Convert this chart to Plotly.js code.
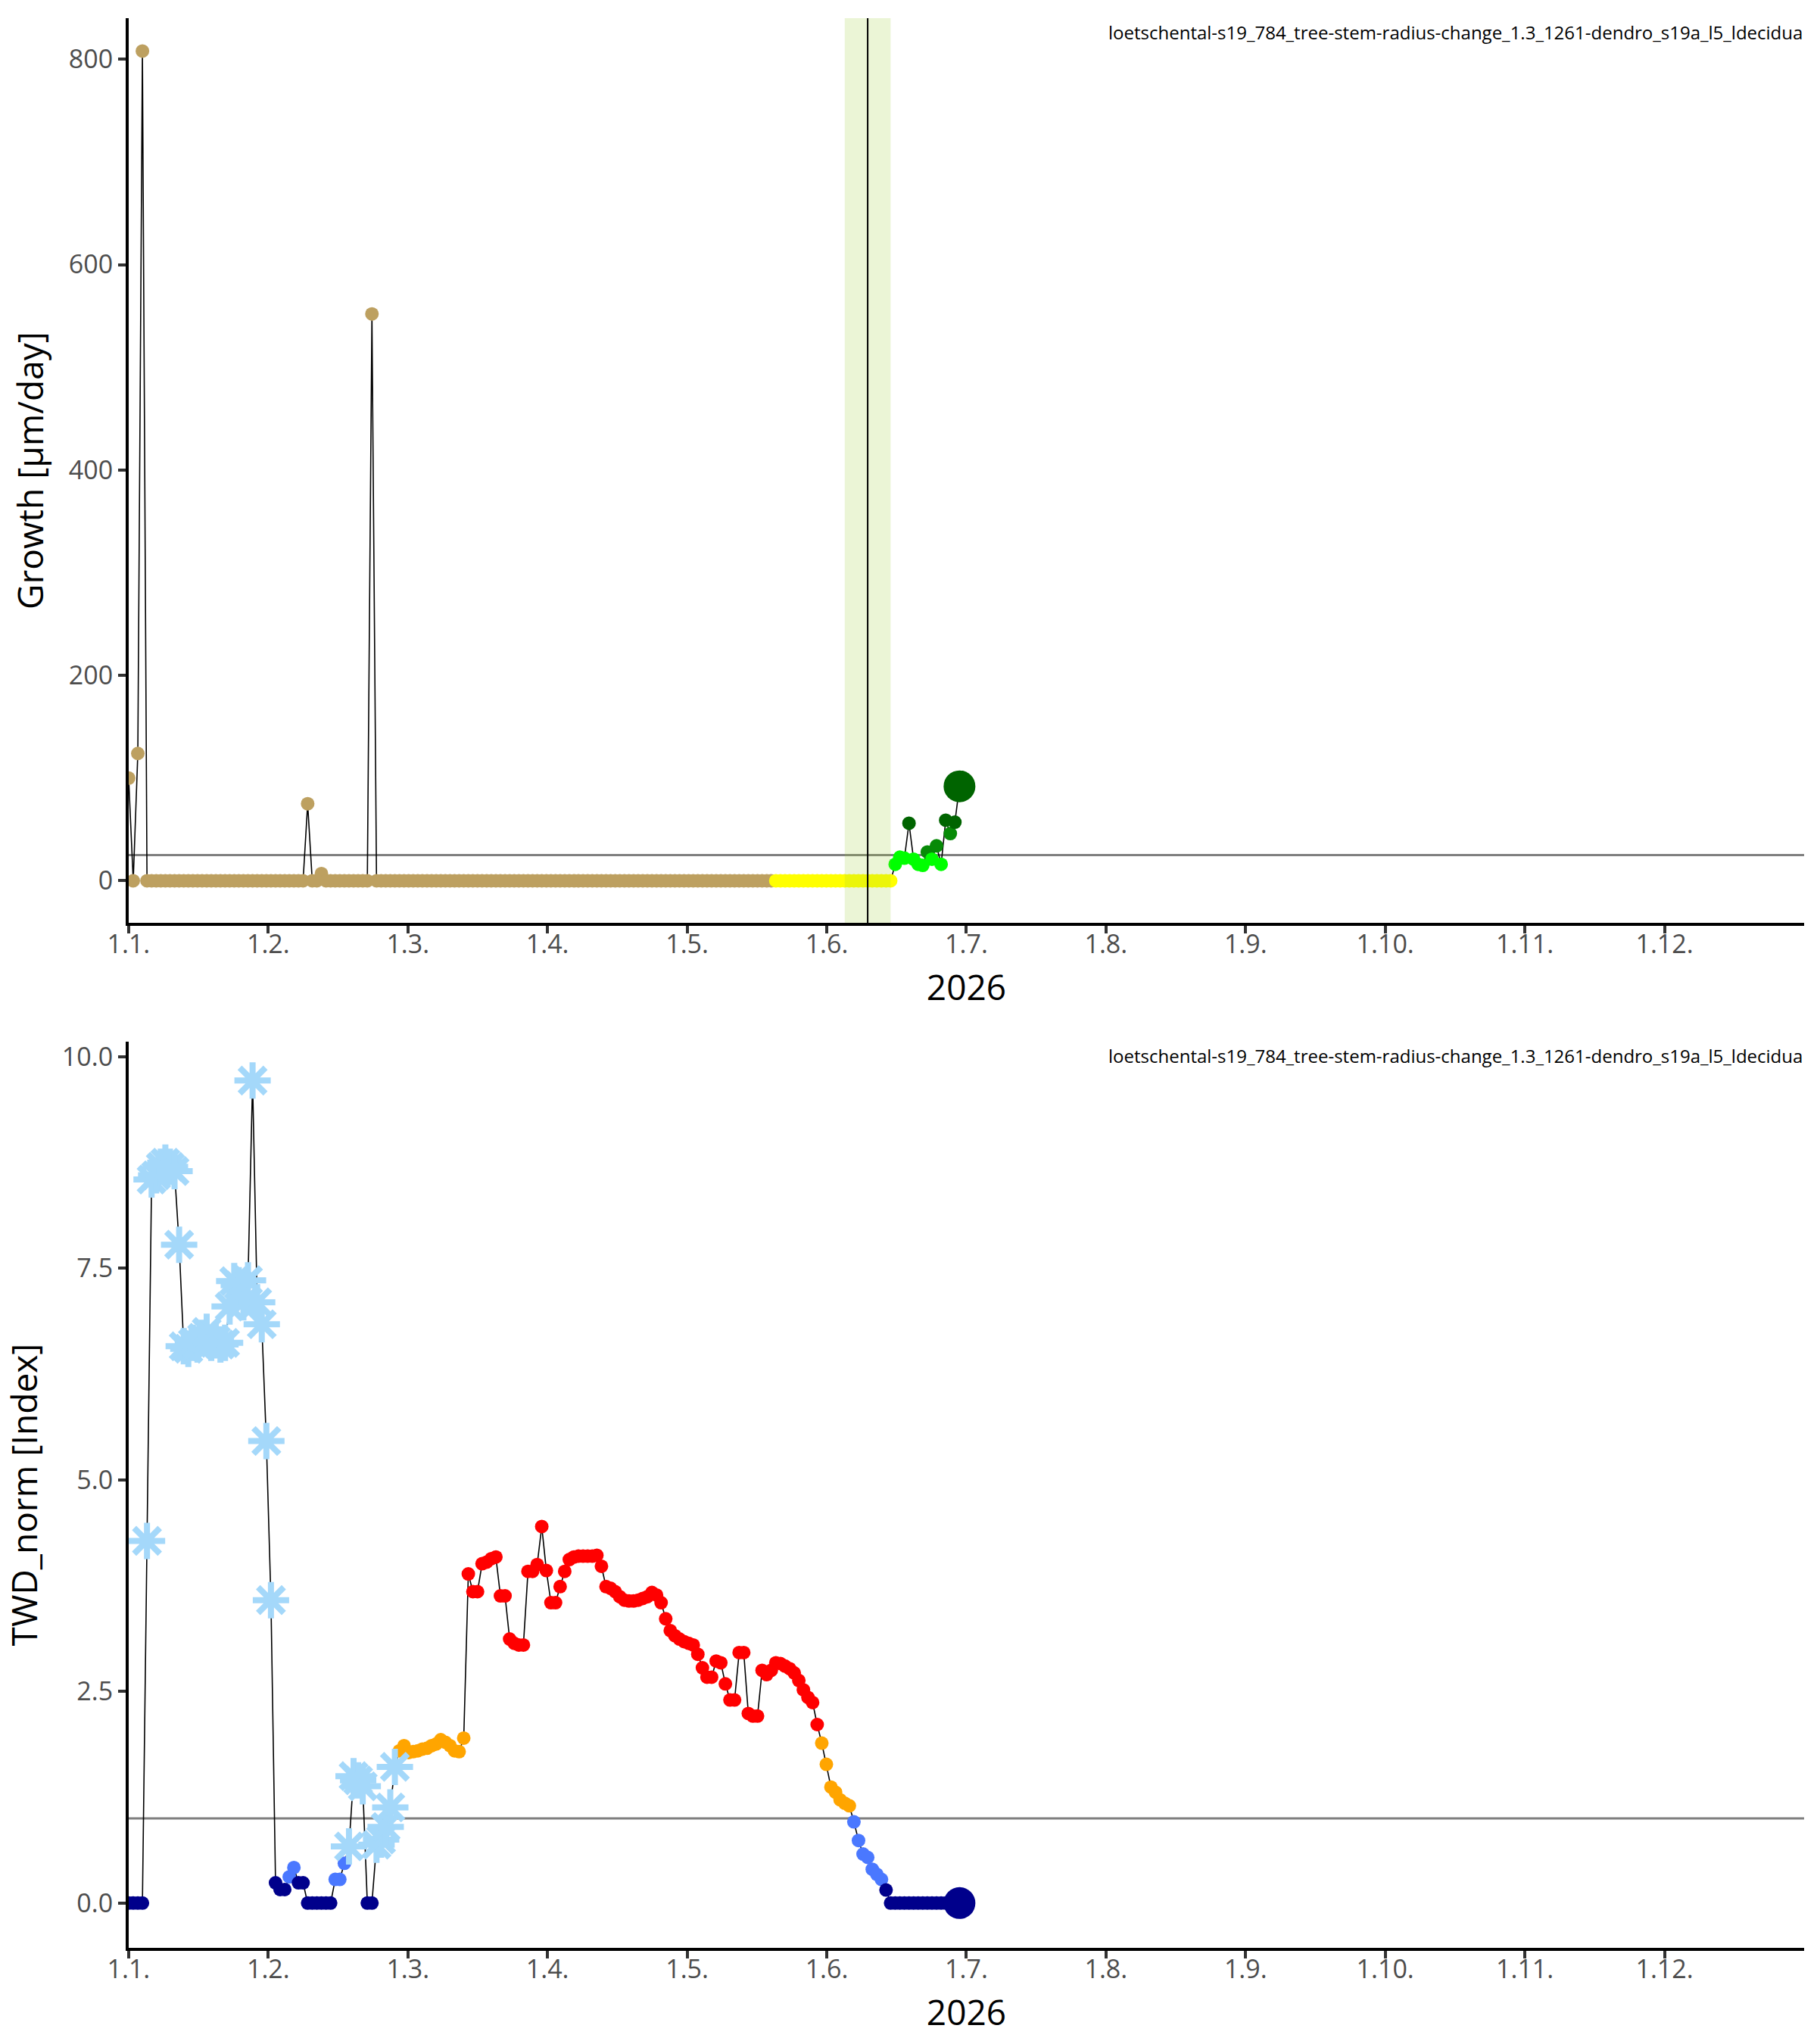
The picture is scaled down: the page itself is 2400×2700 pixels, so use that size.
<!DOCTYPE html>
<html>
<head>
<meta charset="utf-8">
<script src="https://cdn.plot.ly/plotly-3.0.1.min.js"></script>
<style>body{margin:0;background:#fff}</style>
</head>
<body>
<div id="chart" style="width:2400px;height:2700px"></div>
<script>
// labels
var SITE = "loetschental-s19_784_tree-stem-radius-change_1.3_1261-dendro_s19a_l5_ldecidua";
var YEAR = "2026";
var monthLabels = ["1.1.", "1.2.", "1.3.", "1.4.", "1.5.", "1.6.", "1.7.", "1.8.", "1.9.", "1.10.", "1.11.", "1.12."];

// daily growth [µm/day], day 0 = 1.1.
var growth = [
    100, 0, 124, 808, 0, 0, 0, 0, 0, 0,
    0, 0, 0, 0, 0, 0, 0, 0, 0, 0,
    0, 0, 0, 0, 0, 0, 0, 0, 0, 0,
    0, 0, 0, 0, 0, 0, 0, 0, 0, 75,
    0, 0, 7, 0, 0, 0, 0, 0, 0, 0,
    0, 0, 0, 552, 0, 0, 0, 0, 0, 0,
    0, 0, 0, 0, 0, 0, 0, 0, 0, 0,
    0, 0, 0, 0, 0, 0, 0, 0, 0, 0,
    0, 0, 0, 0, 0, 0, 0, 0, 0, 0,
    0, 0, 0, 0, 0, 0, 0, 0, 0, 0,
    0, 0, 0, 0, 0, 0, 0, 0, 0, 0,
    0, 0, 0, 0, 0, 0, 0, 0, 0, 0,
    0, 0, 0, 0, 0, 0, 0, 0, 0, 0,
    0, 0, 0, 0, 0, 0, 0, 0, 0, 0,
    0, 0, 0, 0, 0, 0, 0, 0, 0, 0,
    0, 0, 0, 0, 0, 0, 0, 0, 0, 0,
    0, 0, 0, 0, 0, 0, 0, 16, 23, 22,
    56, 21, 16, 15, 28, 21, 34, 16, 59, 46,
    57, 92
];

// daily TWD_norm [Index]
var twd = [
    0, 0, 0, 0, 4.28, 8.55, 8.6, 8.7, 8.75, 8.7,
    8.65, 7.78, 6.58, 6.55, 6.62, 6.6, 6.68, 6.75, 6.62, 6.65,
    6.6, 6.62, 7.05, 7.35, 7.3, 7.1, 7.36, 9.72, 7.1, 6.84,
    5.46, 3.58, 0.24, 0.16, 0.16, 0.31, 0.42, 0.24, 0.24, 0,
    0, 0, 0, 0, 0, 0.28, 0.28, 0.47, 0.67, 1.5,
    1.45, 1.38, 0, 0, 0.69, 0.75, 0.9, 1.13, 1.61, 1.8,
    1.86, 1.78, 1.79, 1.8, 1.82, 1.83, 1.86, 1.88, 1.93, 1.9,
    1.86, 1.8, 1.79, 1.95, 3.89, 3.68, 3.68, 4.01, 4.03, 4.07,
    4.09, 3.63, 3.63, 3.12, 3.07, 3.05, 3.05, 3.92, 3.92, 4.0,
    4.45, 3.93, 3.55, 3.55, 3.74, 3.92, 4.06, 4.09, 4.1, 4.1,
    4.1, 4.1, 4.11, 3.98, 3.74, 3.72, 3.68, 3.62, 3.58, 3.57,
    3.57, 3.58, 3.6, 3.62, 3.67, 3.64, 3.55, 3.36, 3.22, 3.16,
    3.12, 3.09, 3.07, 3.05, 2.94, 2.78, 2.67, 2.67, 2.86, 2.84,
    2.59, 2.4, 2.4, 2.96, 2.96, 2.24, 2.21, 2.21, 2.75, 2.7,
    2.75, 2.84, 2.83, 2.8, 2.77, 2.72, 2.63, 2.52, 2.43, 2.37,
    2.11, 1.89, 1.64, 1.37, 1.31, 1.22, 1.18, 1.15, 0.96, 0.74,
    0.58, 0.54, 0.4, 0.34, 0.28, 0.155, 0, 0, 0, 0,
    0, 0, 0, 0, 0, 0, 0, 0, 0, 0,
    0, 0
];

// frost days (snowflake markers)
var frostDays = [4, 5, 6, 7, 8, 9, 10, 11, 12, 13, 14, 15, 16, 17, 18, 19, 20,
    21, 22, 23, 24, 25, 26, 27, 28, 29, 30, 31, 48, 49, 50, 51, 54, 55, 56, 57, 58];

var seasonStart = 141;   // yellow: waiting for growth
var growthStart = 167;   // green: growing
var onsetDay = 161;
var onsetWindow = [156, 166];
var growthLimit = 25;
var twdLimit = 1;

var DAYS_IN_YEAR = 365;
var days = [];
for (var i = 0; i < growth.length; i++) days.push(i);
var tickPos = [];
for (var m = 0; m < monthLabels.length; m++) tickPos.push(m * DAYS_IN_YEAR / 12);

function growthColor(d, v) {
    if (d < seasonStart) return "#BDA060";
    if (d < growthStart) return "#FFFF00";
    if (v < 25) return "#00FF00";
    if (v < 50) return "#078A07";
    return "#006400";
}
function twdColor(v) {
    if (v < 0.25) return "#00008B";
    if (v < 1) return "#4A78FF";
    if (v < 2) return "#FFA500";
    return "#FF0000";
}

var last = days.length - 1;

var gCol = [], gSize = [];
for (var i = 0; i < days.length; i++) {
    gCol.push(growthColor(i, growth[i]));
    gSize.push(i === last ? 42 : 18);
}

var cx = [], cy = [], cc = [], cs = [], sx = [], sy = [];
for (var i = 0; i < days.length; i++) {
    if (frostDays.indexOf(i) >= 0) {
        sx.push(i); sy.push(twd[i]);
    } else {
        cx.push(i); cy.push(twd[i]); cc.push(twdColor(twd[i])); cs.push(i === last ? 42 : 18);
    }
}

var data = [
    { x: days, y: growth, mode: 'lines', type: 'scatter', line: { color: 'black', width: 1.6 }, xaxis: 'x', yaxis: 'y', hoverinfo: 'skip' },
    { x: days, y: growth, mode: 'markers', type: 'scatter', marker: { color: gCol, size: gSize, opacity: 1, line: { width: 0 } }, xaxis: 'x', yaxis: 'y' },
    { x: days, y: twd, mode: 'lines', type: 'scatter', line: { color: 'black', width: 1.6 }, xaxis: 'x2', yaxis: 'y2', hoverinfo: 'skip' },
    { x: cx, y: cy, mode: 'markers', type: 'scatter', marker: { color: cc, size: cs, opacity: 1, line: { width: 0 } }, xaxis: 'x2', yaxis: 'y2' },
    { x: sx, y: sy, mode: 'markers', type: 'scatter', marker: { symbol: 'asterisk-open', color: '#A4D8FA', size: 40, opacity: 1, line: { color: '#A4D8FA', width: 8 } }, xaxis: 'x2', yaxis: 'y2' }
];

var tickFont = { family: 'Open Sans', size: 34, color: '#4D4D4D' };
var titleFont = { family: 'Open Sans', size: 46, color: '#000000' };

function xAxis(anchor) {
    return {
        anchor: anchor, domain: [0.0708, 0.9929], range: [0, DAYS_IN_YEAR],
        tickvals: tickPos, ticktext: monthLabels, tickfont: tickFont,
        showline: true, linecolor: 'black', linewidth: 4, mirror: false,
        ticks: 'outside', ticklen: 10, tickwidth: 4, tickcolor: '#333333',
        ticklabelstandoff: -15,
        showgrid: false, zeroline: false,
        title: { text: YEAR, font: titleFont, standoff: 22 }
    };
}
function yAxis(anchor, domain, range, tv, tt, title) {
    return {
        anchor: anchor, domain: domain, range: range,
        tickvals: tv, ticktext: tt, tickfont: tickFont,
        showline: true, linecolor: 'black', linewidth: 4,
        ticks: 'outside', ticklen: 10, tickwidth: 4, tickcolor: '#333333',
        showgrid: false, zeroline: false,
        title: { text: title, font: titleFont, standoff: 20 }
    };
}

var layout = {
    width: 2400, height: 2700,
    margin: { l: 0, r: 0, t: 0, b: 0 },
    paper_bgcolor: 'white', plot_bgcolor: 'white',
    showlegend: false,
    font: { family: 'Open Sans' },
    xaxis: xAxis('y'),
    yaxis: yAxis('x', [0.5485, 0.9911], [-41, 840], [0, 200, 400, 600, 800], ['0', '200', '400', '600', '800'], 'Growth [µm/day]'),
    xaxis2: xAxis('y2'),
    yaxis2: yAxis('x2', [0.047, 0.4904], [-0.53, 10.18], [0, 2.5, 5, 7.5, 10], ['0.0', '2.5', '5.0', '7.5', '10.0'], 'TWD_norm [Index]'),
    shapes: [
        { type: 'line', xref: 'x domain', yref: 'y', x0: 0, x1: 1, y0: growthLimit, y1: growthLimit, line: { color: '#7F7F7F', width: 3 }, layer: 'below' },
        { type: 'rect', xref: 'x', yref: 'y domain', x0: onsetWindow[0], x1: onsetWindow[1], y0: 0, y1: 1, fillcolor: 'rgba(154,205,50,0.2)', line: { width: 0 }, layer: 'above' },
        { type: 'line', xref: 'x', yref: 'y domain', x0: onsetDay, x1: onsetDay, y0: 0, y1: 1, line: { color: 'black', width: 2 }, layer: 'above' },
        { type: 'line', xref: 'x2 domain', yref: 'y2', x0: 0, x1: 1, y0: twdLimit, y1: twdLimit, line: { color: '#7F7F7F', width: 3 }, layer: 'below' }
    ],
    annotations: [
        { text: SITE, xref: 'x domain', yref: 'y domain', x: 1, y: 1, xanchor: 'right', yanchor: 'top', showarrow: false, font: { family: 'Open Sans', size: 24, color: 'black' } },
        { text: SITE, xref: 'x2 domain', yref: 'y2 domain', x: 1, y: 1, xanchor: 'right', yanchor: 'top', showarrow: false, font: { family: 'Open Sans', size: 24, color: 'black' } }
    ]
};

Plotly.newPlot('chart', data, layout, { responsive: false, displayModeBar: false, staticPlot: true });
</script>
</body>
</html>
